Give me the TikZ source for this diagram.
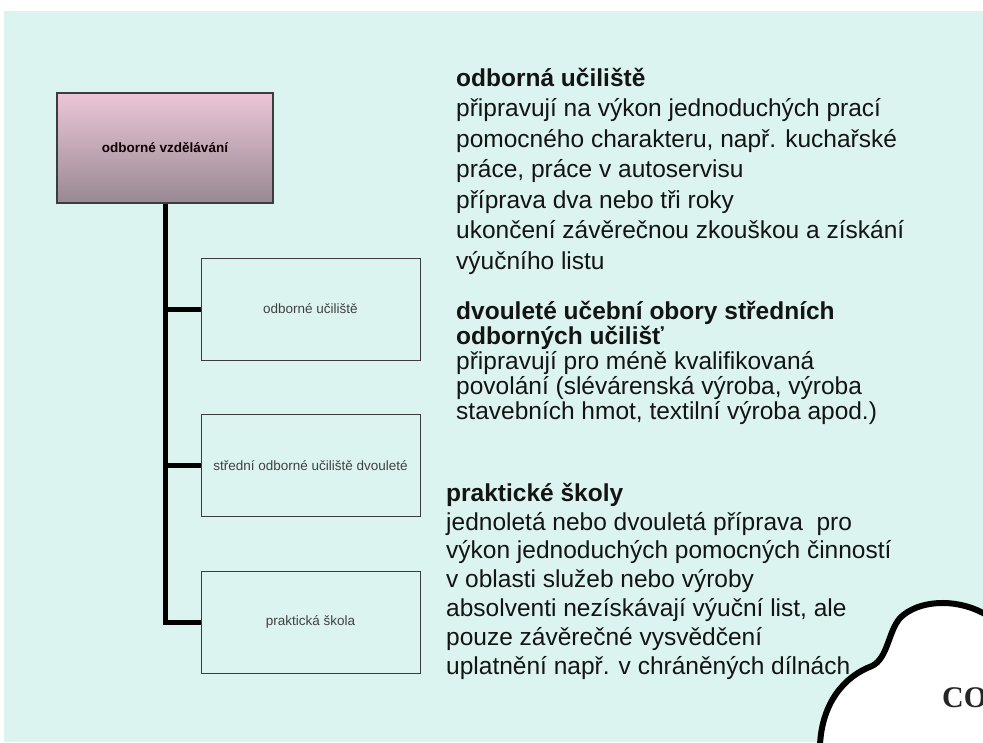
\documentclass[tikz,border=0pt]{standalone}
\usepackage{fontspec}
\setmainfont{Liberation Sans}
\newfontfamily\cofont{Liberation Serif}
\definecolor{bgc}{RGB}{219,244,240}
\definecolor{pinktop}{RGB}{236,198,216}
\definecolor{pinkbot}{RGB}{152,137,146}
\definecolor{boxline}{RGB}{60,60,60}
\definecolor{boxtext}{RGB}{64,64,64}
\definecolor{bodytext}{RGB}{20,20,20}
\tikzset{
  topbox/.style={draw=boxline, line width=1.2pt, top color=pinktop, bottom color=pinkbot,
    minimum width=216pt, minimum height=110pt, inner sep=0pt,
    font=\fontsize{13.5}{16}\selectfont\bfseries, text=black!80!red!30!black},
  sbox/.style={draw=boxline, line width=1pt, minimum width=219pt, minimum height=102pt,
    inner sep=0pt, font=\fontsize{13.5}{16}\selectfont, text=boxtext},
  conn/.style={line width=5pt, black, line join=miter},
  block/.style={anchor=base west, align=left, inner sep=0pt, text=bodytext},
}
\begin{document}
\begin{tikzpicture}[x=1pt,y=-1pt]
\useasboundingbox (0,0) rectangle (983,742);
\fill[white] (0,0) rectangle (983,742);
\fill[bgc] (4,11) rectangle (983,742);

\node[topbox] (top) at (165,148) {odborné vzdělávání};
\node[sbox] (b1) at (310.5,309) {odborné učiliště};
\node[sbox] (b2) at (310.5,465.5) {střední odborné učiliště dvouleté};
\node[sbox] (b3) at (310.5,622) {praktická škola};

\draw[conn] (top.south) |- (b3.west);
\draw[conn] (b1.west -| top.south) -- (b1.west);
\draw[conn] (b2.west -| top.south) -- (b2.west);

% anchors are at the baseline of the last line of each block
\node[block, font=\fontsize{24.5}{30.5}\selectfont] (t1) at (456,269)
 {\textbf{odborná učiliště}\\
  připravují na výkon jednoduchých prací\\
  pomocného charakteru, např. kuchařské\\
  práce, práce v autoservisu\\
  příprava dva nebo tři roky\\
  ukončení závěrečnou zkouškou a získání\\
  výučního listu};

\node[block, font=\fontsize{24.5}{25}\selectfont] (t2) at (456,419)
 {\textbf{dvouleté učební obory středních}\\
  \textbf{odborných učilišť}\\
  připravují pro méně kvalifikovaná\\
  povolání (slévárenská výroba, výroba\\
  stavebních hmot, textilní výroba apod.)};

\node[block, font=\fontsize{24.5}{28.8}\selectfont] (t3) at (446,674)
 {\textbf{praktické školy}\\
  jednoletá nebo dvouletá příprava\ \ pro\\
  výkon jednoduchých pomocných činností\\
  v oblasti služeb nebo výroby\\
  absolventi nezískávají výuční list, ale\\
  pouze závěrečné vysvědčení\\
  uplatnění např. v chráněných dílnách};

\begin{scope}
\clip (0,0) rectangle (983,742);
\fill[white] (983,613) .. controls (955,598) and (918,600) .. (900,618)
  .. controls (888,632) and (888,658) .. (872,666)
  .. controls (845,676) and (822,702) .. (820,745) -- (990,745) -- (990,613) -- cycle;
\draw[line width=6pt, line cap=round] (990,617) -- (983,613) .. controls (955,598) and (918,600) .. (900,618)
  .. controls (888,632) and (888,658) .. (872,666)
  .. controls (845,676) and (822,702) .. (820,745);
\node[anchor=base west, inner sep=0pt, font=\cofont\bfseries\fontsize{30}{30}\selectfont, text=black!85] (co) at (942,707) {CO};
\end{scope}
\end{tikzpicture}
\end{document}
